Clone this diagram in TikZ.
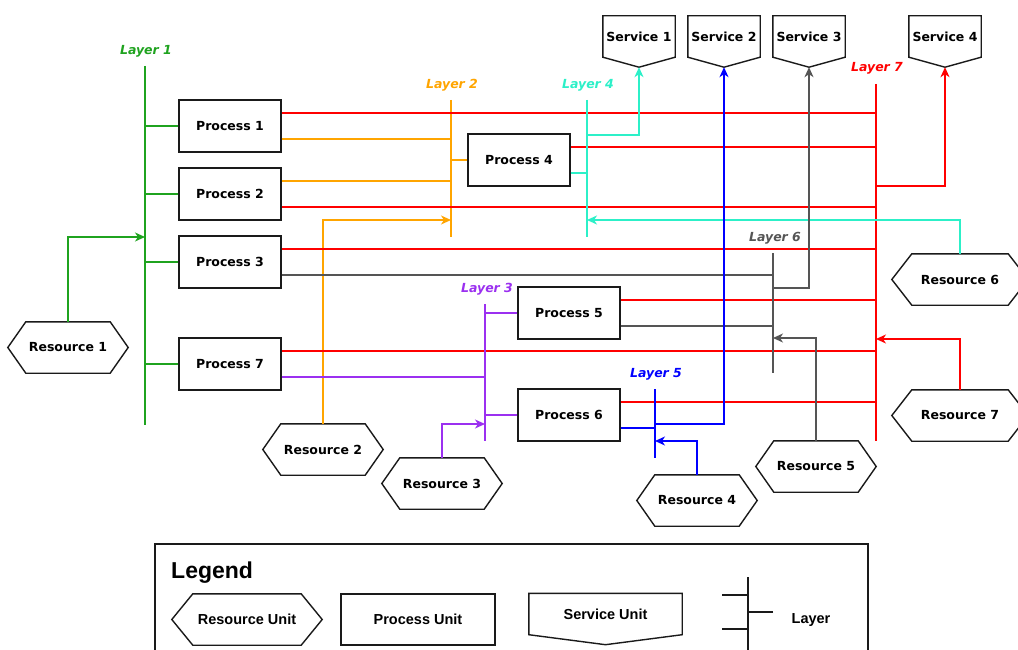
\documentclass[tikz,border=0pt]{standalone}
\usepackage{fontspec}
\setmainfont{DejaVu Sans}
\newfontfamily\legendfont{Liberation Sans}
\usetikzlibrary{arrows.meta,calc}

\definecolor{cgreen}{HTML}{1FA31F}
\definecolor{corange}{HTML}{FFA500}
\definecolor{cpurple}{HTML}{9B30F0}
\definecolor{cteal}{HTML}{2CF0C8}
\definecolor{cblue}{HTML}{0000FF}
\definecolor{cgray}{HTML}{555555}
\definecolor{cred}{HTML}{FF0000}
\definecolor{outl}{HTML}{1A1A1A}

% service shape: rectangle with a pointed bottom edge
\newcommand\svcnode[5]{% name, x, y, width, text
  \node[svcbox, minimum width=#4] (#1) at (#2,#3) {#5};
  \draw[outline] (#1.south west) -- (#1.north west) -- (#1.north east)
    -- (#1.south east) -- ([yshift=-10pt]#1.south) -- cycle;
  \coordinate (#1tip) at ([yshift=-10pt]#1.south);
}
% resource shape: hexagon with pointed left and right ends
\newcommand\resnode[6]{% name, x, y, width, inset, text
  \node[resbox, minimum width=#4] (#1) at (#2,#3) {#6};
  \draw[outline] (#1.west) -- ([xshift=#5]#1.north west) -- ([xshift=-#5]#1.north east)
    -- (#1.east) -- ([xshift=-#5]#1.south east) -- ([xshift=#5]#1.south west) -- cycle;
}
% horizontal link from a point on a box edge to a layer bar
\newcommand\hlink[3]{% style, start, layer coordinate
  \draw[#1] (#2) coordinate (hl) -- (hl -| #3);
}

\begin{document}
\begin{tikzpicture}[x=1pt,y=-1pt,
  font=\fontsize{12.5}{14}\selectfont\bfseries,
  outline/.style={draw=outl, line width=1.4pt, line join=miter},
  procbox/.style={outline, fill=white, minimum width=102pt, minimum height=52pt, inner sep=0pt},
  resbox/.style={minimum height=51pt, inner sep=0pt},
  svcbox/.style={minimum height=41pt, inner sep=0pt},
  wire/.style={line width=1.4pt},
  arr/.style={-{Stealth[length=10pt,width=9pt,inset=3pt]}},
  c1/.style={wire, cgreen}, c2/.style={wire, corange}, c3/.style={wire, cpurple},
  c4/.style={wire, cteal}, c5/.style={wire, cblue}, c6/.style={wire, cgray},
  c7/.style={wire, cred},
  laylab/.style={font=\fontsize{12.5}{14}\selectfont\bfseries\itshape, inner sep=0pt},
  legtext/.style={font=\legendfont\fontsize{14.5}{16}\selectfont\bfseries},
]
\useasboundingbox (0,0) rectangle (1018,650);
\fill[white] (0,0) rectangle (1018,650);
\clip (0,0) rectangle (1018,650);

% ---------- process units ----------
\node[procbox] (p1) at (230,126) {Process 1};
\node[procbox] (p2) at (230,194) {Process 2};
\node[procbox] (p3) at (230,262) {Process 3};
\node[procbox] (p7) at (230,364) {Process 7};
\node[procbox] (p4) at (519,160) {Process 4};
\node[procbox] (p5) at (569,313) {Process 5};
\node[procbox] (p6) at (569,415) {Process 6};

% ---------- resource units ----------
\resnode{r1}{68}{347.5}{120pt}{18pt}{Resource 1}
\resnode{r2}{323}{449.5}{120pt}{18pt}{Resource 2}
\resnode{r3}{442}{483.5}{120pt}{18pt}{Resource 3}
\resnode{r4}{697}{500.5}{120pt}{18pt}{Resource 4}
\resnode{r5}{816}{466.5}{120pt}{18pt}{Resource 5}
\resnode{r6}{960}{279.5}{136pt}{20pt}{Resource 6}
\resnode{r7}{960}{415.5}{136pt}{20pt}{Resource 7}

% ---------- service units ----------
\svcnode{s1}{639}{36.5}{72pt}{Service 1}
\svcnode{s2}{724}{36.5}{72pt}{Service 2}
\svcnode{s3}{809}{36.5}{72pt}{Service 3}
\svcnode{s4}{945}{36.5}{72pt}{Service 4}

% ---------- layer bars ----------
\coordinate (L1t) at (145,66);  \coordinate (L1b) at (145,425);
\coordinate (L2t) at (451,100); \coordinate (L2b) at (451,237);
\coordinate (L3t) at (485,304); \coordinate (L3b) at (485,441);
\coordinate (L4t) at (587,100); \coordinate (L4b) at (587,237);
\coordinate (L5t) at (655,389); \coordinate (L5b) at (655,458);
\coordinate (L6t) at (773,253); \coordinate (L6b) at (773,373);
\coordinate (L7t) at (876,84);  \coordinate (L7b) at (876,441);

% entry and exit points on the bars
\coordinate (L1in) at (145,237);
\coordinate (L2in) at (451,220);
\coordinate (L3in) at (485,424);
\coordinate (L4in) at (587,220);
\coordinate (L5in) at (655,441);
\coordinate (L6in) at (773,338);
\coordinate (L7in) at (876,339);
\coordinate (L4s) at (587,135);
\coordinate (L5s) at (655,424);
\coordinate (L6s) at (773,288);
\coordinate (L7s) at (876,186);

\node[laylab, text=cgreen]  (lab1) at (146,51)  {Layer 1};
\node[laylab, text=corange] (lab2) at (452,85)  {Layer 2};
\node[laylab, text=cpurple] (lab3) at (487,289) {Layer 3};
\node[laylab, text=cteal]   (lab4) at (588,85)  {Layer 4};
\node[laylab, text=cblue]   (lab5) at (656,374) {Layer 5};
\node[laylab, text=cgray]   (lab6) at (775,238) {Layer 6};
\node[laylab, text=cred]    (lab7) at (877,68)  {Layer 7};

% Layer 1
\draw[c1] (L1t) -- (L1b);
\foreach \p in {p1,p2,p3,p7} { \draw[c1] (\p.west) -- (\p.west -| L1t); }
\draw[c1,arr] (r1.north) |- (L1in);

% Layer 2
\draw[c2] (L2t) -- (L2b);
\hlink{c2}{[yshift=-13pt]p1.east}{L2t}
\hlink{c2}{[yshift=13pt]p2.east}{L2t}
\draw[c2] (p4.west) -- (p4.west -| L2t);
\draw[c2,arr] (r2.north) |- (L2in);

% Layer 7 (red links)
\draw[c7] (L7t) -- (L7b);
\hlink{c7}{[yshift=13pt]p1.east}{L7t}
\hlink{c7}{[yshift=-13pt]p2.east}{L7t}
\hlink{c7}{[yshift=13pt]p3.east}{L7t}
\hlink{c7}{[yshift=13pt]p4.east}{L7t}
\hlink{c7}{[yshift=13pt]p5.east}{L7t}
\hlink{c7}{[yshift=13pt]p6.east}{L7t}
\hlink{c7}{[yshift=13pt]p7.east}{L7t}
\draw[c7,arr] (L7s) -| (s4tip);
\draw[c7,arr] (r7.north) |- (L7in);

% Layer 4
\draw[c4] (L4t) -- (L4b);
\hlink{c4}{[yshift=-13pt]p4.east}{L4t}
\draw[c4,arr] (L4s) -| (s1tip);
\draw[c4,arr] (r6.north) |- (L4in);

% Layer 6
\draw[c6] (L6t) -- (L6b);
\hlink{c6}{[yshift=-13pt]p3.east}{L6t}
\hlink{c6}{[yshift=-13pt]p5.east}{L6t}
\draw[c6,arr] (L6s) -| (s3tip);
\draw[c6,arr] (r5.north) |- (L6in);

% Layer 3
\draw[c3] (L3t) -- (L3b);
\draw[c3] (p5.west) -- (p5.west -| L3t);
\draw[c3] (p6.west) -- (p6.west -| L3t);
\hlink{c3}{[yshift=-13pt]p7.east}{L3t}
\draw[c3,arr] (r3.north) |- (L3in);

% Layer 5
\draw[c5] (L5t) -- (L5b);
\hlink{c5}{[yshift=-13pt]p6.east}{L5t}
\draw[c5,arr] (L5s) -| (s2tip);
\draw[c5,arr] (r4.north) |- (L5in);

% ---------- legend ----------
\draw[outline] (155,544) rectangle (868,700);
\node[anchor=base west, inner sep=0pt, font=\legendfont\fontsize{23}{26}\selectfont\bfseries] (legtitle) at (171,578) {Legend};
\resnode{lres}{247}{619.5}{150pt}{21pt}{\legendfont\fontsize{14.5}{16}\selectfont\bfseries Resource Unit}
\node[procbox, minimum width=154pt, minimum height=51pt, legtext] (lproc) at (418,619.5) {Process Unit};
\svcnode{lsvc}{605.5}{614}{153pt}{\legendfont\fontsize{14.5}{16}\selectfont\bfseries Service Unit}
\coordinate (lbt) at (748,577); \coordinate (lbb) at (748,660);
\coordinate (lbl1) at (722,595); \coordinate (lbl2) at (722,629);
\coordinate (lbr) at (773,612);
\draw[outline] (lbt) -- (lbb);
\draw[outline] (lbl1) -- (lbl1 -| lbt);
\draw[outline] (lbl2) -- (lbl2 -| lbt);
\draw[outline] (lbr) -- (lbr -| lbt);
\node[legtext] (llay) at (811,620) {Layer};
\end{tikzpicture}
\end{document}
